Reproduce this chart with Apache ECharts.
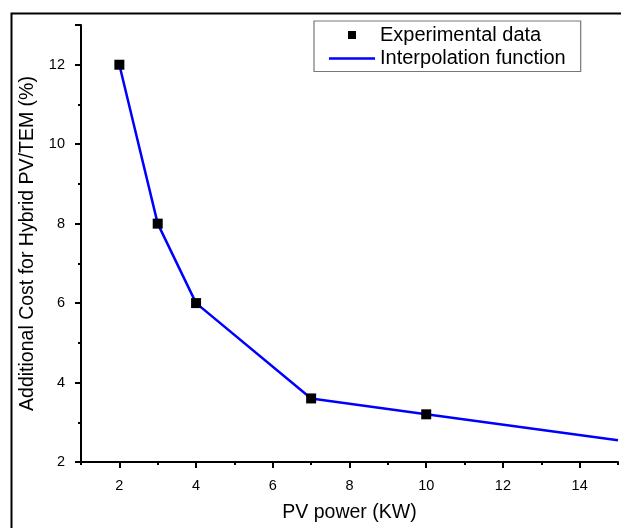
<!DOCTYPE html>
<html>
<head>
<meta charset="utf-8">
<script src="https://cdn.jsdelivr.net/npm/echarts@6/dist/echarts.min.js"></script>
<style>html,body{margin:0;padding:0;background:#fff}#c{width:621px;height:528px}</style>
</head>
<body>
<div id="c"></div>
<script>
var expX = [2, 3, 4, 7, 10];
var expY = [12, 8, 6, 3.6, 3.2];
var interpX = [2, 3, 4, 7, 10, 15];
var interpY = [12, 8, 6, 3.6, 3.2, 2.55];
var xTickLabels = [2, 4, 6, 8, 10, 12, 14];
var yTickLabels = [2, 4, 6, 8, 10, 12];

var F = '"Liberation Sans", Arial, sans-serif';
var chart = echarts.init(document.getElementById('c'), null, {renderer: 'canvas'});
var expData = expX.map(function (x, i) { return [x, expY[i]]; });
var interpData = interpX.map(function (x, i) { return [x, interpY[i]]; });

chart.setOption({
  animation: false,
  backgroundColor: '#ffffff',
  graphic: [{
    type: 'rect', left: 9, top: 11, z: 100, silent: true,
    shape: {width: 700, height: 600},
    style: {fill: 'none', stroke: '#000', lineWidth: 2}
  }],
  grid: {left: 81, right: 0, top: 25, bottom: 64, containLabel: false},
  legend: {
    orient: 'vertical', left: 314, top: 21,
    padding: [4, 15, 3, 15],
    itemGap: 3.5, itemWidth: 46, itemHeight: 8,
    symbolKeepAspect: true,
    borderColor: '#777', borderWidth: 1.2, backgroundColor: '#fff',
    textStyle: {fontFamily: F, fontSize: 20, color: '#000'},
    data: [
      {name: 'Experimental data', icon: 'path://M0,0H10V10H0Z', itemStyle: {color: '#000', opacity: 1}},
      {name: 'Interpolation function', icon: 'path://M0,0H46V2.5H0Z', itemStyle: {color: '#0000ff', opacity: 1}}
    ]
  },
  xAxis: [{
    type: 'value', min: 1, max: 15, interval: 1,
    name: 'PV power (KW)', nameLocation: 'middle', nameGap: 41,
    nameTextStyle: {fontFamily: F, fontSize: 19.5, color: '#000'},
    axisLine: {show: true, onZero: false, lineStyle: {color: '#000', width: 2}},
    axisTick: {show: true, length: 3, lineStyle: {color: '#000', width: 2}},
    axisLabel: {fontFamily: F, fontSize: 14.5, color: '#000', margin: 16,
      formatter: function (v) { return xTickLabels.indexOf(v) >= 0 ? String(v) : ''; }},
    splitLine: {show: false}
  }, {
    type: 'value', min: 1, max: 15, interval: 2, position: 'bottom',
    axisLine: {show: false, onZero: false},
    axisTick: {show: false},
    minorTick: {show: true, splitNumber: 2, length: 6, lineStyle: {color: '#000', width: 2}},
    axisLabel: {show: false},
    splitLine: {show: false}
  }],
  yAxis: [{
    type: 'value', min: 2, max: 13, interval: 1,
    name: 'Additional Cost for Hybrid PV/TEM (%)', nameLocation: 'middle', nameGap: 41,
    nameTextStyle: {fontFamily: F, fontSize: 19.5, color: '#000'},
    axisLine: {show: true, onZero: false, lineStyle: {color: '#000', width: 2}},
    axisTick: {show: true, length: 3, lineStyle: {color: '#000', width: 2}},
    axisLabel: {fontFamily: F, fontSize: 14.5, color: '#000', margin: 16,
      formatter: function (v) { return yTickLabels.indexOf(v) >= 0 ? String(v) : ''; }},
    splitLine: {show: false}
  }, {
    type: 'value', min: 2, max: 13, interval: 2, position: 'left',
    axisLine: {show: false, onZero: false},
    axisTick: {show: true, length: 6, lineStyle: {color: '#000', width: 2}},
    axisLabel: {show: false},
    splitLine: {show: false}
  }],
  series: [{
    name: 'Experimental data', type: 'scatter', xAxisIndex: 0, yAxisIndex: 0,
    symbol: 'rect', symbolSize: 10, z: 5,
    itemStyle: {color: '#000', opacity: 1},
    data: expData
  }, {
    name: 'Interpolation function', type: 'line', xAxisIndex: 0, yAxisIndex: 0,
    showSymbol: false, symbol: 'none', z: 3,
    lineStyle: {color: '#0000ff', width: 2.5},
    itemStyle: {color: '#0000ff'},
    data: interpData
  }]
});
</script>
</body>
</html>
